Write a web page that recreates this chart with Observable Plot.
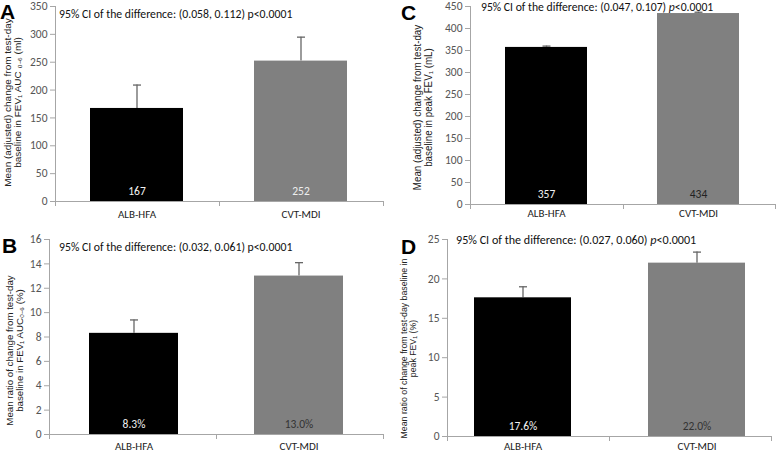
<!DOCTYPE html>
<html><head><meta charset="utf-8">
<script src="https://cdn.jsdelivr.net/npm/d3@7"></script>
<script src="https://cdn.jsdelivr.net/npm/@observablehq/plot@0.6"></script>
<style>
body{margin:0;background:#fff;}
#wrap{position:relative;width:778px;height:453px;overflow:hidden;font-family:Carlito,Lato,sans-serif;}
.panel{position:absolute;}
.letter{position:absolute;font:bold 21px "Liberation Sans",Arial,sans-serif;color:#000;line-height:1;}
.annot{position:absolute;white-space:nowrap;color:#111;font-family:Carlito,Lato,sans-serif;line-height:1;}
.ytitle{position:absolute;transform-origin:center center;text-align:center;white-space:nowrap;
 font-family:"Liberation Sans",Arial,sans-serif;color:#222;}
.ytitle .ln{display:inline-block;}
</style></head><body><div id="wrap"></div>
<script>
// ---------- data ----------
const categories = ["ALB-HFA", "CVT-MDI"];
const barColors = ["#000000", "#808080"];

// Panel A: FEV1 AUC0-6 change (ml)
const aValues = [167, 252];
const aErrors = [42, 43];
const aLabels = ["167", "252"];
const aTicks = [0, 50, 100, 150, 200, 250, 300, 350];

// Panel B: ratio FEV1 AUC0-6 change (%)
const bValues = [8.3, 13.0];
const bErrors = [1.1, 1.1];
const bLabels = ["8.3%", "13.0%"];
const bTicks = [0, 2, 4, 6, 8, 10, 12, 14, 16];

// Panel C: peak FEV1 change (mL)
const cValues = [357, 434];
const cErrors = [3, 3];
const cLabels = ["357", "434"];
const cTicks = [0, 50, 100, 150, 200, 250, 300, 350, 400, 450];

// Panel D: ratio peak FEV1 change (%)
const dValues = [17.6, 22.0];
const dErrors = [1.4, 1.4];
const dLabels = ["17.6%", "22.0%"];
const dTicks = [0, 5, 10, 15, 20, 25];

const annotA = "95% CI of the difference: (0.058, 0.112) p&lt;0.0001";
const annotB = "95% CI of the difference: (0.032, 0.061) p&lt;0.0001";
const annotC = "95% CI of the difference: (0.047, 0.107) <i>p</i>&lt;0.0001";
const annotD = "95% CI of the difference: (0.027, 0.060) <i>p</i>&lt;0.0001";

const titleA = ["Mean (adjusted) change from test-day", "baseline in FEV₁ AUC ₀₋₆ (ml)"];
const titleB = ["Mean ratio of change from test-day", "baseline in  FEV₁ AUC₀₋₆ (%)"];
const titleC = ["Mean (adjusted) change from test-day", "baseline in peak FEV₁ (mL)"];
const titleD = ["Mean ratio of change from test-day baseline in", "peak FEV₁ (%)"];

// ---------- layout / styles ----------
const panels = [
  {letter: "A", values: aValues, errors: aErrors, labels: aLabels, ticks: aTicks, annot: annotA, title: titleA,
   labelColors: ["#f2f2f2", "#eeeeee"],
   left: 0, top: 0, w: 389, h: 225, ml: 55, mr: 6, mt: 6, mb: 24, pi: 0.43, po: 0.215, xPad: 9,
   letterPos: [0, 1], annotPos: [59, 8, 233], titlePos: [12, 102, 9.5, 9.5, 169]},
  {letter: "C", values: cValues, errors: cErrors, labels: cLabels, ticks: cTicks, annot: annotC, title: titleC,
   labelColors: ["#f2f2f2", "#222222"],
   left: 388, top: 0, w: 390, h: 225, ml: 82, mr: 3, mt: 6, mb: 21, pi: 0.46, po: 0.233, xPad: 5,
   letterPos: [401, 2], annotPos: [481, 1, 232], titlePos: [422, 107, 10.5, 10.5, 165]},
  {letter: "B", values: bValues, errors: bErrors, labels: bLabels, ticks: bTicks, annot: annotB, title: titleB,
   labelColors: ["#f2f2f2", "#333333"],
   left: 0, top: 225, w: 389, h: 228, ml: 49, mr: 6, mt: 14, mb: 19, pi: 0.46, po: 0.242, xPad: 8,
   letterPos: [2, 235], annotPos: [59, 241, 233], titlePos: [14, 350, 9.5, 9.5, 150]},
  {letter: "D", values: dValues, errors: dErrors, labels: dLabels, ticks: dTicks, annot: annotD, title: titleD,
   labelColors: ["#f2f2f2", "#333333"],
   left: 388, top: 225, w: 390, h: 228, ml: 59, mr: 7, mt: 14, mb: 17, pi: 0.443, po: 0.152, xPad: 6,
   letterPos: [401, 236], annotPos: [456, 234, 240], titlePos: [408, 348, 8.5, 8.5, 180]}
];

const capSymbol = {draw(ctx) { ctx.moveTo(-4, 0); ctx.lineTo(4, 0); }};

function axisFrame(index, scales, values, dims) {
  const g = d3.create("svg:g").attr("stroke", "#a6a6a6").attr("fill", "none");
  const x0 = dims.marginLeft, x1 = dims.width - dims.marginRight;
  const yb = dims.height - dims.marginBottom, yt = dims.marginTop;
  g.append("line").attr("x1", x0 + 0.5).attr("x2", x0 + 0.5).attr("y1", yt).attr("y2", yb);
  g.append("line").attr("x1", x0).attr("x2", x1).attr("y1", yb + 0.5).attr("y2", yb + 0.5);
  for (const x of [x0, (x0 + x1) / 2, x1]) {
    g.append("line").attr("x1", Math.round(x) + 0.5).attr("x2", Math.round(x) + 0.5).attr("y1", yb).attr("y2", yb + 5);
  }
  return g.node();
}

const wrap = document.getElementById("wrap");

for (const p of panels) {
  const data = categories.map((c, i) => ({
    cat: c, value: p.values[i], hi: p.values[i] + p.errors[i],
    label: p.labels[i], color: barColors[i], labelColor: p.labelColors[i]
  }));
  const chart = Plot.plot({
    width: p.w, height: p.h,
    marginLeft: p.ml, marginRight: p.mr, marginTop: p.mt, marginBottom: p.mb,
    style: {fontFamily: "Carlito, Lato, sans-serif", fontSize: "11px", color: "#555", background: "transparent", overflow: "visible"},
    x: {domain: categories, paddingInner: p.pi, paddingOuter: p.po, label: null},
    y: {domain: [p.ticks[0], p.ticks[p.ticks.length - 1]], label: null},
    marks: [
      Plot.ruleX(data, {x: "cat", y1: "value", y2: "hi", stroke: "#666", strokeWidth: 1.3}),
      Plot.dot(data, {x: "cat", y: "hi", symbol: capSymbol, fill: "none", stroke: "#666", strokeWidth: 1.3}),
      Plot.barY(data, {x: "cat", y: "value", fill: "color"}),
      Plot.text(data, {x: "cat", y: p.ticks[0], dy: -10, text: "label", fill: "labelColor", fontSize: 11.5}),
      axisFrame,
      Plot.axisY({ticks: p.ticks, tickSize: 5, tickPadding: 3, stroke: "#a6a6a6", fill: "#555", label: null, fontSize: 11.5}),
      Plot.axisX({tickSize: 0, tickPadding: p.xPad, fill: "#222", label: null})
    ]
  });
  chart.classList.add("panel");
  chart.style.left = p.left + "px";
  chart.style.top = p.top + "px";
  wrap.appendChild(chart);

  const L = document.createElement("div");
  L.className = "letter";
  L.textContent = p.letter;
  L.style.left = p.letterPos[0] + "px";
  L.style.top = p.letterPos[1] + "px";
  wrap.appendChild(L);

  const A = document.createElement("div");
  A.className = "annot";
  A.innerHTML = p.annot;
  A.style.left = p.annotPos[0] + "px";
  A.style.top = p.annotPos[1] + "px";
  A.style.fontSize = "12.5px";
  A.style.transformOrigin = "left center";
  wrap.appendChild(A);
  A.style.transform = `scaleX(${p.annotPos[2] / A.offsetWidth})`;

  const T = document.createElement("div");
  T.className = "ytitle";
  const [cx, cy, fs, lh, target] = p.titlePos;
  T.style.fontSize = fs + "px";
  T.style.lineHeight = lh + "px";
  T.innerHTML = p.title.map(t => `<span class="ln">${t}</span>`).join("<br>");
  wrap.appendChild(T);
  const w = T.offsetWidth, h = T.offsetHeight;
  const l1 = T.querySelector(".ln").offsetWidth;
  T.style.left = (cx - w / 2) + "px";
  T.style.top = (cy - h / 2) + "px";
  T.style.transform = `rotate(-90deg) scaleX(${target / l1})`;
}
</script></body></html>
